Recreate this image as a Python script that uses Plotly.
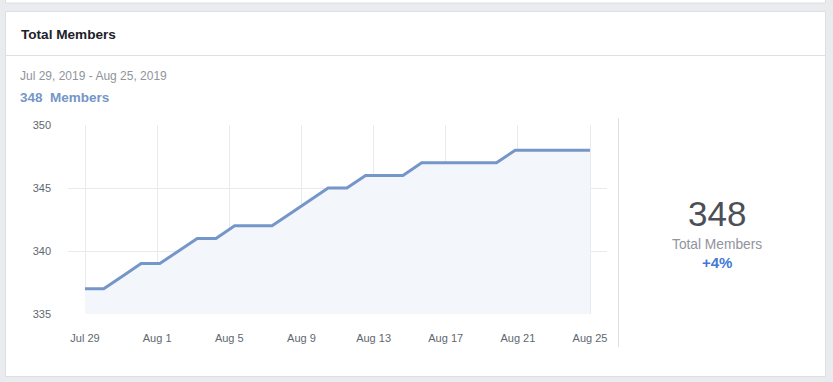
import pandas as pd
import plotly.graph_objects as go

# ---- data ----
dates = ["2019-07-29", "2019-07-30", "2019-07-31", "2019-08-01", "2019-08-02",
         "2019-08-03", "2019-08-04", "2019-08-05", "2019-08-06", "2019-08-07",
         "2019-08-08", "2019-08-09", "2019-08-10", "2019-08-11", "2019-08-12",
         "2019-08-13", "2019-08-14", "2019-08-15", "2019-08-16", "2019-08-17",
         "2019-08-18", "2019-08-19", "2019-08-20", "2019-08-21", "2019-08-22",
         "2019-08-23", "2019-08-24", "2019-08-25"]
members = [337, 337, 338, 339, 339, 340, 341, 341, 342, 342,
           342, 343, 344, 345, 345, 346, 346, 346, 347, 347,
           347, 347, 347, 348, 348, 348, 348, 348]
x_tick_labels = ["Jul 29", "Aug 1", "Aug 5", "Aug 9", "Aug 13", "Aug 17", "Aug 21", "Aug 25"]
y_ticks = [335, 340, 345, 350]
card_title = "Total Members"
date_range_text = "Jul 29, 2019 - Aug 25, 2019"
total_value = "348"
total_label = "Members"
big_label = "Total Members"
change_text = "+4%"

# ---- geometry helpers ----
W, H = 833, 382
def px(x):
    return x / W
def py(y):
    return 1 - y / H

start = pd.Timestamp(dates[0])
end = pd.Timestamp(dates[-1])
span = end - start
tickvals = [start + span * i / (len(x_tick_labels) - 1) for i in range(len(x_tick_labels))]
pad = span * (17 / 505)
x_range = [start - pad, end + pad]

LINE = "#7596c8"
GRID = "#e9eaed"
BORDER = "#dddfe2"
FONT = "Liberation Sans, Arial, sans-serif"

fig = go.Figure()
fig.add_trace(go.Scatter(
    x=dates, y=members, mode="lines",
    line=dict(color=LINE, width=3),
    fill="tozeroy", fillcolor="#f3f6fb",
    hoverinfo="skip", showlegend=False,
))

shapes = [
    # previous card strip at top
    dict(type="rect", xref="paper", yref="paper", x0=px(5.5), x1=px(825.5), y0=py(3), y1=py(-6),
         fillcolor="white", line=dict(color=BORDER, width=1), layer="below"),
    # main card
    dict(type="rect", xref="paper", yref="paper", x0=px(5.5), x1=px(825.5), y0=py(376.5), y1=py(11.5),
         fillcolor="white", line=dict(color=BORDER, width=1), layer="below"),
    # header separator
    dict(type="line", xref="paper", yref="paper", x0=px(6), x1=px(825), y0=py(55.5), y1=py(55.5),
         line=dict(color=BORDER, width=1), layer="below"),
    # vertical separator
    dict(type="line", xref="paper", yref="paper", x0=px(618.5), x1=px(618.5), y0=py(118), y1=py(347),
         line=dict(color=BORDER, width=1), layer="below"),
]

annotations = [
    dict(text=f"<b>{card_title}</b>", x=px(19), y=py(34), xanchor="left", yanchor="middle",
         font=dict(size=13.6, color="#1d2129", family=FONT)),
    dict(text=date_range_text, x=px(18), y=py(76), xanchor="left", yanchor="middle",
         font=dict(size=12, color="#90949c", family=FONT)),
    dict(text=f"<b>{total_value}</b>", x=px(18), y=py(97), xanchor="left", yanchor="middle",
         font=dict(size=13.5, color=LINE, family=FONT)),
    dict(text=f"<b>{total_label}</b>", x=px(47.5), y=py(97), xanchor="left", yanchor="middle",
         font=dict(size=13.5, color=LINE, family=FONT)),
    dict(text=total_value, x=px(716.5), y=py(213), xanchor="center", yanchor="middle",
         font=dict(size=35, color="#4b4f56", family=FONT)),
    dict(text=big_label, x=px(716.5), y=py(244), xanchor="center", yanchor="middle",
         font=dict(size=13.75, color="#90949c", family=FONT)),
    dict(text=f"<b>{change_text}</b>", x=px(716.5), y=py(262), xanchor="center", yanchor="middle",
         font=dict(size=15, color="#4279d6", family=FONT)),
]
for a in annotations:
    a.update(xref="paper", yref="paper", showarrow=False)

fig.update_layout(
    width=W, height=H, autosize=False,
    margin=dict(l=0, r=0, t=0, b=0, pad=0, autoexpand=False),
    paper_bgcolor="#e9ebee", plot_bgcolor="rgba(0,0,0,0)",
    font=dict(family=FONT, size=11, color="#606770"),
    shapes=shapes, annotations=annotations,
    showlegend=False,
    xaxis=dict(
        domain=[px(68), px(607)], type="date", range=x_range, automargin=False,
        tickmode="array", tickvals=tickvals, ticktext=x_tick_labels,
        showgrid=True, gridcolor=GRID, gridwidth=1, zeroline=False, showline=False,
        ticks="", ticklabelstandoff=16, tickfont=dict(size=11, color="#606770"),
        fixedrange=True,
    ),
    yaxis=dict(
        domain=[py(314), py(125)], range=[335, 350], automargin=False,
        tickmode="array", tickvals=y_ticks,
        showgrid=False, zeroline=False, showline=False,
        ticks="", ticklabelstandoff=16, tickfont=dict(size=11, color="#606770"),
        minor=dict(tickmode="array", tickvals=y_ticks[:-1], showgrid=True, gridcolor=GRID, gridwidth=1),
        fixedrange=True,
    ),
)

fig.write_html(
    "out.html",
    config={"displayModeBar": False},
    post_script="document.body.style.margin='0';document.body.style.overflow='hidden';",
)
